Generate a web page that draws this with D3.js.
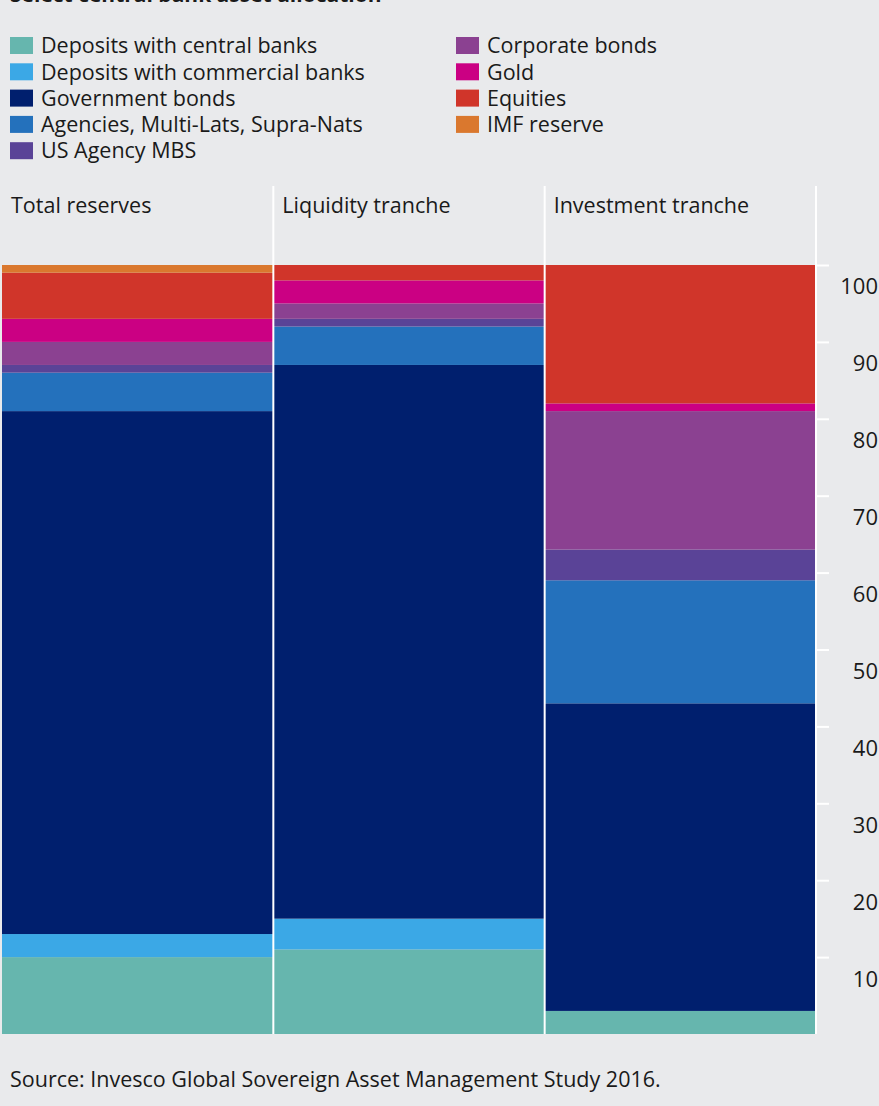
<!DOCTYPE html>
<html>
<head>
<meta charset="utf-8">
<script src="https://cdn.jsdelivr.net/npm/d3@7"></script>
<style>
  html, body { margin: 0; padding: 0; background: #e9eaec; }
  svg { display: block; }
  text { font-family: "Open Sans", "Noto Sans", sans-serif; fill: #1a1a1a; }
</style>
</head>
<body>
<svg id="chart" width="879" height="1106"></svg>
<script>
// ---- Data ----
const categories = ["Total reserves", "Liquidity tranche", "Investment tranche"];
const seriesNames = [
  "Deposits with central banks",
  "Deposits with commercial banks",
  "Government bonds",
  "Agencies, Multi-Lats, Supra-Nats",
  "US Agency MBS",
  "Corporate bonds",
  "Gold",
  "Equities",
  "IMF reserve"
];
const depositsCentral    = [10, 11, 3];
const depositsCommercial = [3, 4, 0];
const governmentBonds    = [68, 72, 40];
const agencies           = [5, 5, 16];
const usAgencyMBS        = [1, 1, 4];
const corporateBonds     = [3, 2, 18];
const gold               = [3, 3, 1];
const equities           = [6, 2, 18];
const imfReserve         = [1, 0, 0];
const yTicks = [10, 20, 30, 40, 50, 60, 70, 80, 90, 100];

const seriesValues = [depositsCentral, depositsCommercial, governmentBonds, agencies,
  usAgencyMBS, corporateBonds, gold, equities, imfReserve];
const colors = ["#66b6ae", "#3ba8e6", "#001f6e", "#2471bc", "#5a4397",
  "#8b4191", "#cb0083", "#d0352a", "#da782e"];

// ---- Build table ----
const table = categories.map((c, i) => {
  const row = { category: c };
  seriesNames.forEach((s, j) => { row[s] = seriesValues[j][i]; });
  return row;
});

const svg = d3.select("#chart");
const W = 879, H = 1106;
svg.append("rect").attr("width", W).attr("height", H).attr("fill", "#e9eaec");

const x = d3.scaleBand().domain(categories).range([2, 816]).paddingInner(0).paddingOuter(0);
const y = d3.scaleLinear().domain([0, 100]).range([1034, 265]);
const color = d3.scaleOrdinal().domain(seriesNames).range(colors);

// Title (partly cropped at top, as in the reference)
svg.append("text").attr("x", 10).attr("y", 2)
  .style("font-weight", "bold").style("font-size", "21px")
  .text("Select central bank asset allocation");

// Legend
const legendItems = seriesNames.map((s, i) => ({ name: s, col: i < 5 ? 0 : 1, row: i < 5 ? i : i - 5 }));
const lg = svg.append("g");
const li = lg.selectAll("g").data(legendItems).join("g")
  .attr("transform", d => `translate(${d.col === 0 ? 10 : 456},${37 + d.row * 26.3})`);
li.append("rect").attr("width", 23).attr("height", 17).attr("fill", d => color(d.name));
li.append("text").attr("x", 31).attr("y", 8.5).attr("dy", "0.36em")
  .style("font-size", "21.5px").text(d => d.name);

// Stacked bars
const stack = d3.stack().keys(seriesNames);
const stacked = stack(table);
svg.append("g").selectAll("g").data(stacked).join("g")
  .attr("fill", d => color(d.key))
  .selectAll("rect").data(d => d).join("rect")
  .attr("x", d => x(d.data.category))
  .attr("width", x.bandwidth())
  .attr("y", d => y(d[1]))
  .attr("height", d => y(d[0]) - y(d[1]));

// Column separators
const seps = categories.slice(1).map(c => x(c));
svg.append("g").selectAll("line").data(seps).join("line")
  .attr("x1", d => d).attr("x2", d => d)
  .attr("y1", 186).attr("y2", 1034)
  .attr("stroke", "#ffffff").attr("stroke-width", 2);

// Column headers
svg.append("g").selectAll("text").data(categories).join("text")
  .attr("x", d => x(d) + 9).attr("y", 205).attr("dy", "0.36em")
  .style("font-size", "21.5px").text(d => d);

// Right axis
const axis = d3.axisRight(y).tickValues(yTicks).tickSize(13).tickFormat(d3.format("d"));
const ag = svg.append("g").attr("transform", "translate(816,0)").call(axis);
ag.select(".domain").remove();
ag.selectAll(".tick line").attr("stroke", "#ffffff").attr("stroke-width", 2);
ag.selectAll(".tick text")
  .attr("x", 62).attr("dy", "0.36em").attr("y", 21)
  .attr("text-anchor", "end")
  .style("font-size", "22px").style("font-family", "'Open Sans', sans-serif")
  .attr("fill", "#1a1a1a");
svg.append("line").attr("x1", 816).attr("x2", 816).attr("y1", 186).attr("y2", 1034)
  .attr("stroke", "#ffffff").attr("stroke-width", 2);

// Source
svg.append("text").attr("x", 10).attr("y", 1079).attr("dy", "0.36em")
  .style("font-size", "21.5px")
  .text("Source: Invesco Global Sovereign Asset Management Study 2016.");
</script>
</body>
</html>
